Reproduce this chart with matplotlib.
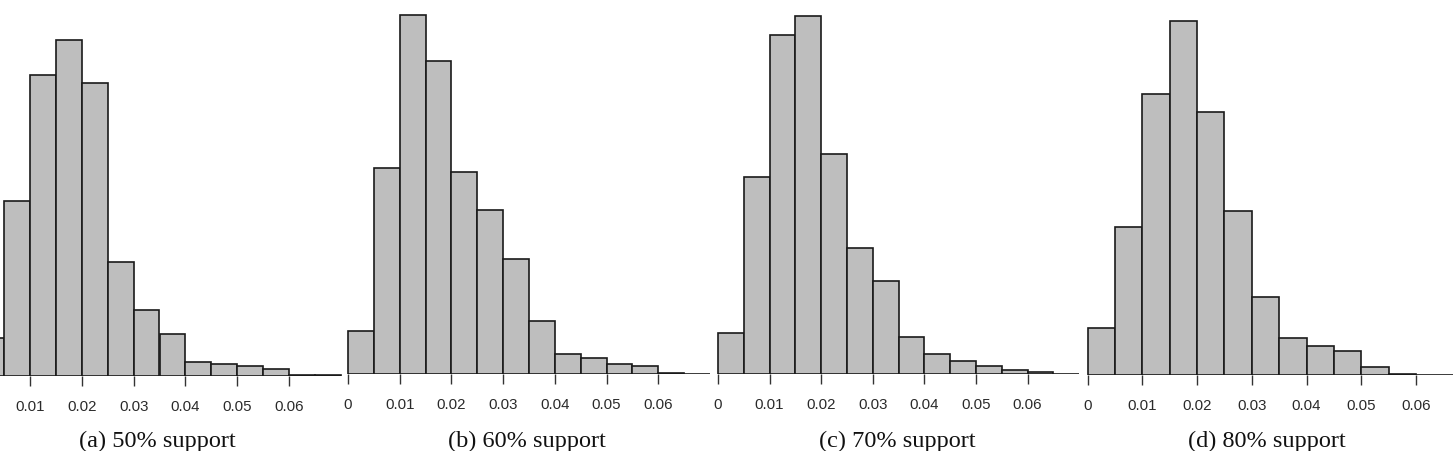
import numpy as np
import matplotlib
matplotlib.use("Agg")
import matplotlib.pyplot as plt

W, H = 1455, 452
DPI = 100

bin_width = 0.005
tick_values = [0, 0.01, 0.02, 0.03, 0.04, 0.05, 0.06]
tick_labels = ["0", "0.01", "0.02", "0.03", "0.04", "0.05", "0.06"]

captions = ["(a) 50% support", "(b) 60% support", "(c) 70% support", "(d) 80% support"]

# frequencies per bin (bins of width 0.005 starting at 0)
freq_50 = [38, 175, 301, 336, 293, 114, 66, 42, 14, 12, 10, 7, 0.8, 1.5]
freq_60 = [43, 206, 359, 313, 202, 164, 115, 53, 20, 16, 10, 8, 1.3, 0.3]
freq_70 = [41, 197, 339, 358, 220, 126, 93, 37, 20, 13, 8, 4, 2, 0.3]
freq_80 = [47, 148, 281, 354, 263, 164, 78, 37, 29, 24, 8, 1.5, 0.3, 0.2]

series = [freq_50, freq_60, freq_70, freq_80]

# layout (pixels): x of value 0, pixels per unit, baseline y, x-range of axes, caption centre
layout = [
    dict(zero=-21.8, ppu=5180.0, base=377, xmin=0.0042, xmax=0.0705, cap=157),
    dict(zero=348.0, ppu=5170.0, base=375, xmin=-0.004, xmax=0.0705, cap=527),
    dict(zero=718.0, ppu=5160.0, base=375, xmin=-0.004, xmax=0.0705, cap=897),
    dict(zero=1087.7, ppu=5470.0, base=376, xmin=-0.004, xmax=0.0667, cap=1267),
]

fig = plt.figure(figsize=(W / DPI, H / DPI), dpi=DPI)

for vals, lay, cap in zip(series, layout, captions):
    left_px = lay["zero"] + lay["xmin"] * lay["ppu"]
    width_px = (lay["xmax"] - lay["xmin"]) * lay["ppu"]
    base = lay["base"]
    ax = fig.add_axes([left_px / W, (H - base) / H, width_px / W, base / H])
    edges = np.arange(len(vals)) * bin_width
    ax.bar(edges, vals, width=bin_width, align="edge", color="#bebebe",
           edgecolor="#1a1a1a", linewidth=1.2)
    ax.set_xlim(lay["xmin"], lay["xmax"])
    ax.set_ylim(0, base)
    for s in ax.spines.values():
        s.set_visible(False)
    ax.set_yticks([])
    shown = [(v, l) for v, l in zip(tick_values, tick_labels) if v >= lay["xmin"]]
    ax.set_xticks([v for v, _ in shown])
    ax.set_xticklabels([l for _, l in shown], fontfamily="Liberation Sans",
                       fontsize=10.8, color="#2a2a2a")
    ax.tick_params(axis="x", direction="out", length=7.5, width=1.0,
                   color="#333333", pad=9)
    ax.patch.set_alpha(0)
    fig.text(lay["cap"] / W, 1 - 441 / H, cap, ha="center", va="center",
             fontfamily="Liberation Serif", fontsize=17.5, color="#111111")

fig.savefig("out.png", dpi=DPI)
